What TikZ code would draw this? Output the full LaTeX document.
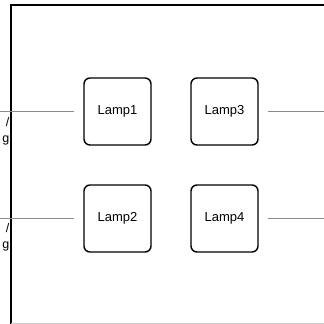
\documentclass[tikz,border=0pt]{standalone}
\usepackage{fontspec}
\setmainfont{Liberation Sans}
\begin{document}
\begin{tikzpicture}[x=1pt,y=-1pt,
  lampbox/.style={draw=black,line width=1.4pt,rounded corners=6pt,minimum width=67pt,minimum height=67pt,inner sep=0pt,font=\fontsize{13}{15}\selectfont},
  wire/.style={draw=black!45,line width=0.9pt},
  frameline/.style={draw=black,line width=1.2pt},
  lbl/.style={font=\fontsize{12.5}{16}\selectfont,align=right,inner sep=0pt}]
\useasboundingbox (0,0) rectangle (324,324);
\clip (0,0) rectangle (324,324);
% frame
\coordinate (ftr) at (324,5);
\coordinate (ftl) at (11,5);
\coordinate (fbl) at (11,324);
\coordinate (fbl2) at (11,323.3);
\coordinate (fbr) at (324,323.3);
\draw[frameline] (ftr) -- (ftl) -- (fbl);
\draw[draw=black!20,line width=0.9pt] (fbl2) -- (fbr);
% lamps
\node[lampbox] (L1) at (117.5,111.5) {Lamp1};
\node[lampbox] (L3) at (224.5,111.5) {Lamp3};
\node[lampbox] (L2) at (117.5,218.5) {Lamp2};
\node[lampbox] (L4) at (224.5,218.5) {Lamp4};
% wires
\coordinate (in1) at (0,111.5);
\coordinate (in2) at (0,218.5);
\coordinate (out3) at (324,111.5);
\coordinate (out4) at (324,218.5);
\draw[wire,shorten >=9pt] (in1) -- (L1);
\draw[wire,shorten >=9pt] (in2) -- (L2);
\draw[wire,shorten <=9pt] (L3) -- (out3);
\draw[wire,shorten <=9pt] (L4) -- (out4);
% clipped labels
\node[lbl,anchor=north east] (t1) at (9.5,117.5) {/\\g};
\node[lbl,anchor=north east] (t2) at (9.5,223.5) {/\\g};
\end{tikzpicture}
\end{document}
